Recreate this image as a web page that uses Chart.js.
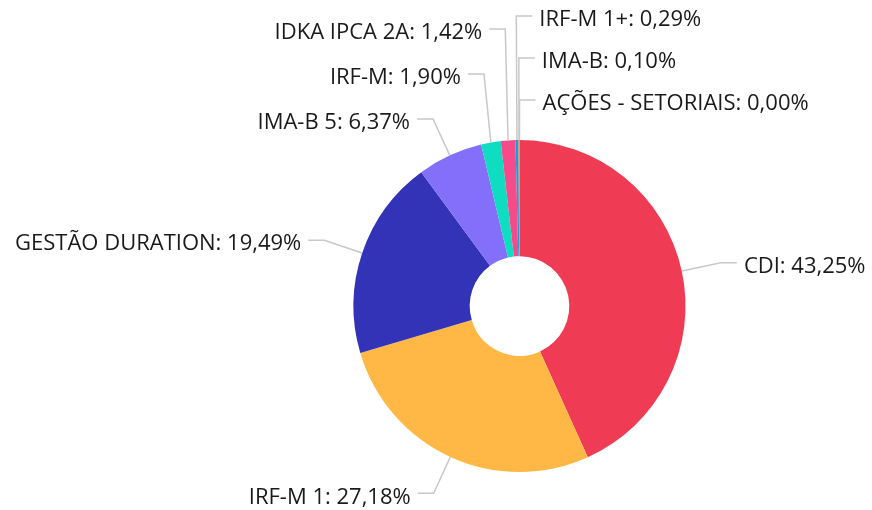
<!DOCTYPE html>
<html>
<head>
<meta charset="utf-8">
<script src="https://cdn.jsdelivr.net/npm/chart.js@4/dist/chart.umd.min.js"></script>
<style>
html,body{margin:0;padding:0;background:#fff;}
#wrap{width:872px;height:510px;position:relative;}
</style>
</head>
<body>
<div id="wrap"><canvas id="c" width="872" height="510"></canvas></div>
<script>
const categories = ['CDI', 'IRF-M 1', 'GESTÃO DURATION', 'IMA-B 5', 'IRF-M', 'IDKA IPCA 2A', 'IRF-M 1+', 'IMA-B', 'AÇÕES - SETORIAIS'];
const values = [43.25, 27.18, 19.49, 6.37, 1.90, 1.42, 0.29, 0.10, 0.00];
const colors = ['#EF3B53', '#FFB845', '#3333B7', '#836FF9', '#0EDDC2', '#F64B8B', '#1E9BE0', '#D98C3B', '#9A9A9A'];

function fmt(v){ return v.toFixed(2).replace('.', ','); }

const outLabels = {
  id: 'outLabels',
  afterDatasetsDraw(chart){
    const ctx = chart.ctx;
    const meta = chart.getDatasetMeta(0);
    const ext = 40;
    const items = meta.data.map((arc, i) => {
      const p = arc.getProps(['x','y','startAngle','endAngle','outerRadius'], true);
      const mid = (p.startAngle + p.endAngle) / 2;
      const c = Math.cos(mid), s = Math.sin(mid);
      let key = ((mid + Math.PI/2) % (2*Math.PI) + 2*Math.PI) % (2*Math.PI);
      const right = c > -0.03;
      if (right && key > Math.PI) key -= 2*Math.PI;
      return {i, ax: p.x + p.outerRadius*c, ay: p.y + p.outerRadius*s,
              ex: p.x + (p.outerRadius+ext)*c, ey: p.y + (p.outerRadius+ext)*s,
              right, key};
    });
    const rightItems = items.filter(d => d.right).sort((a,b) => a.key - b.key);
    const leftItems = items.filter(d => !d.right).sort((a,b) => b.key - a.key);
    function place(list, gap){
      let prev = Infinity;
      for (let k = list.length-1; k >= 0; k--){
        const d = list[k];
        d.ly = Math.min(d.ey, prev - gap);
        prev = d.ly;
      }
    }
    place(rightItems, 42);
    place(leftItems, 45);
    ctx.save();
    ctx.font = '22px "Open Sans"';
    ctx.textBaseline = 'middle';
    ctx.fillStyle = '#1a1a1a';
    ctx.strokeStyle = '#c8c8c8';
    ctx.lineWidth = 1.5;
    items.forEach(d => {
      const dir = d.right ? 1 : -1;
      ctx.beginPath();
      ctx.moveTo(d.ax, d.ay);
      ctx.lineTo(d.ex, d.ly);
      ctx.lineTo(d.ex + dir*16, d.ly);
      ctx.stroke();
      ctx.textAlign = d.right ? 'left' : 'right';
      ctx.fillText(categories[d.i] + ': ' + fmt(values[d.i]) + '%', d.ex + dir*23, d.ly + 4);
    });
    ctx.restore();
  }
};

new Chart(document.getElementById('c'), {
  type: 'doughnut',
  data: {
    labels: categories,
    datasets: [{ data: values, backgroundColor: colors, borderWidth: 0 }]
  },
  options: {
    responsive: false,
    animation: false,
    cutout: '30%',
    layout: { padding: { left: 353.5, right: 186.5, top: 140, bottom: 38 } },
    plugins: { legend: { display: false }, tooltip: { enabled: false } }
  },
  plugins: [outLabels]
});
</script>
</body>
</html>
